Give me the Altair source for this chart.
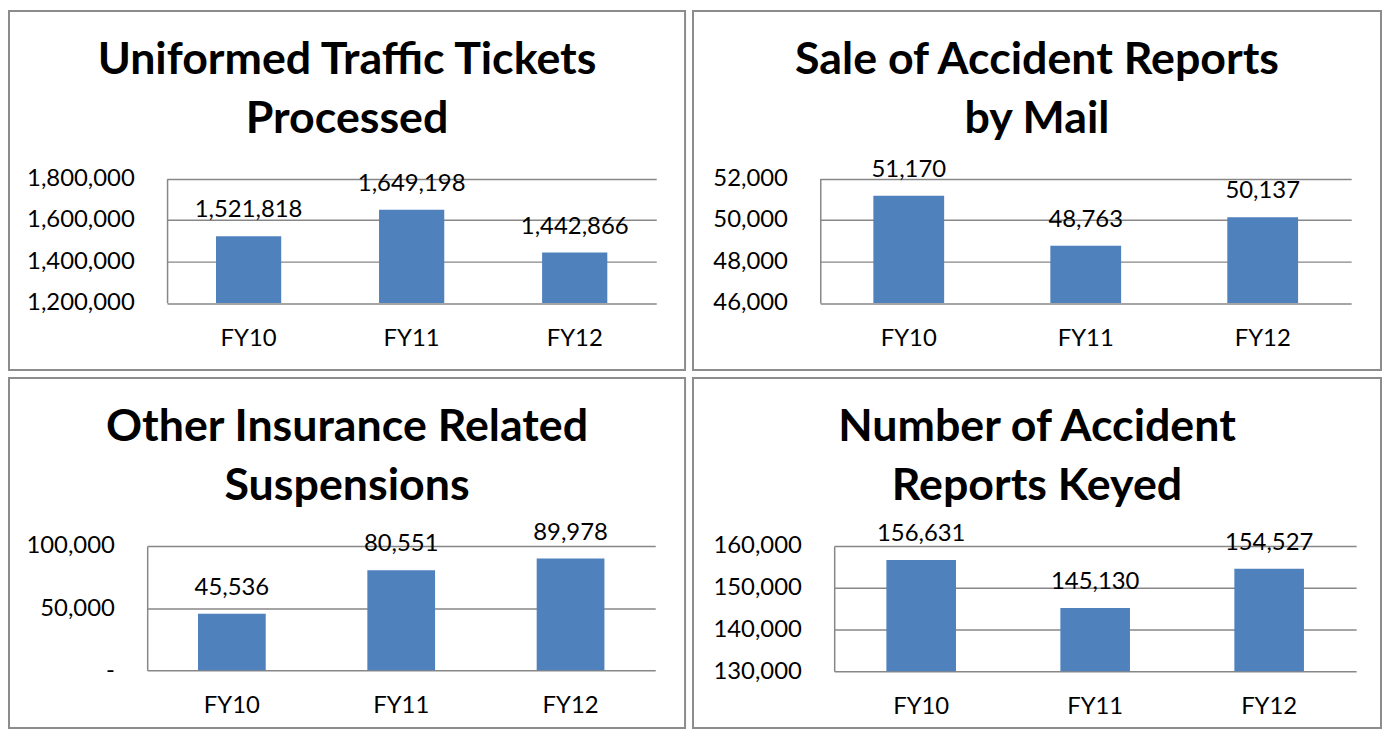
import altair as alt
import pandas as pd

# ---- data ----
years = ["FY10", "FY11", "FY12"]
titles = [
    ["Uniformed Traffic Tickets", "Processed"],
    ["Sale of Accident Reports", "by Mail"],
    ["Other Insurance Related", "Suspensions"],
    ["Number of Accident", "Reports Keyed"],
]
tickets_processed = [1521818, 1649198, 1442866]
reports_by_mail = [51170, 48763, 50137]
insurance_suspensions = [45536, 80551, 89978]
reports_keyed = [156631, 145130, 154527]
series = [tickets_processed, reports_by_mail, insurance_suspensions, reports_keyed]
y_domains = [[1200000, 1800000], [46000, 52000], [0, 100000], [130000, 160000]]
y_ticks = [
    [1200000, 1400000, 1600000, 1800000],
    [46000, 48000, 50000, 52000],
    [0, 50000, 100000],
    [130000, 140000, 150000, 160000],
]

# ---- layout / style (pixels inside each framed panel) ----
panel_w = [680, 692, 680, 692]
panel_h = [361, 361, 352, 352]
plot_x = [(159, 651), (128, 662), (139, 650), (142, 667)]
plot_y = [(168.5, 293.5), (168.5, 293.5), (169, 294), (169, 295)]
title_x = [340, 346, 340, 346]
title_y = [63, 63, 63, 63]
BAR = "#4F81BD"
GRID = "#878787"
FRAME = "#8C8C8C"
FONT = "Lato"
LABEL_SIZE = 24


def panel(i):
    df = pd.DataFrame({"year": years, "value": series[i]})
    one = pd.DataFrame({"k": [0]})
    x0, x1 = plot_x[i]
    y0, y1 = plot_y[i]
    label_expr = "format(datum.value, ',')"
    if y_domains[i][0] == 0:
        label_expr = "datum.value == 0 ? '-\u00a0\u00a0\u00a0' : format(datum.value, ',')"

    xscale = alt.Scale(range=[x0, x1], paddingInner=0.6, paddingOuter=0.3)
    yscale = alt.Scale(domain=y_domains[i], range=[y1, y0], nice=False, zero=False)
    x = alt.X(
        "year:N", sort=years, title=None, scale=xscale,
        axis=alt.Axis(ticks=False, domain=False, labelAngle=0, labelPadding=24,
                      offset=-(panel_h[i] - y1), labelFontSize=LABEL_SIZE,
                      labelFont=FONT, labelColor="black", grid=False),
    )
    y = alt.Y(
        "value:Q", title=None, scale=yscale,
        axis=alt.Axis(values=y_ticks[i], labelExpr=label_expr, ticks=False, tickSize=0,
                      offset=-x0, labelPadding=33, grid=True, gridColor=GRID,
                      gridWidth=1.5, domainColor=GRID, domainWidth=1.5,
                      labelFontSize=LABEL_SIZE, labelFont=FONT, labelColor="black"),
    )
    bars = alt.Chart(df).mark_bar(color=BAR).encode(
        x=x, y=y, y2=alt.datum(y_domains[i][0])
    )
    labels = alt.Chart(df).mark_text(
        baseline="alphabetic", dy=-19, fontSize=LABEL_SIZE, font=FONT, color="black"
    ).encode(
        x=alt.X("year:N", sort=years),
        y=alt.Y("value:Q"),
        text=alt.Text("value:Q", format=","),
    )
    ttl = alt.Chart(one).mark_text(
        text=titles[i], font=FONT, fontSize=45, fontWeight="bold", lineHeight=60,
        align="center", baseline="alphabetic", color="black"
    ).encode(x=alt.value(title_x[i]), y=alt.value(title_y[i]))
    return alt.layer(bars, labels, ttl).properties(width=panel_w[i], height=panel_h[i])


chart = alt.concat(
    *[panel(i) for i in range(4)], columns=2, spacing=6, align="each"
).properties(
    padding={"left": 0, "top": 0, "right": 0, "bottom": 0}, background="white"
).configure_view(stroke=FRAME, strokeWidth=2, fill="white")

chart.save("out.html", embed_options={"renderer": "svg", "actions": False})
